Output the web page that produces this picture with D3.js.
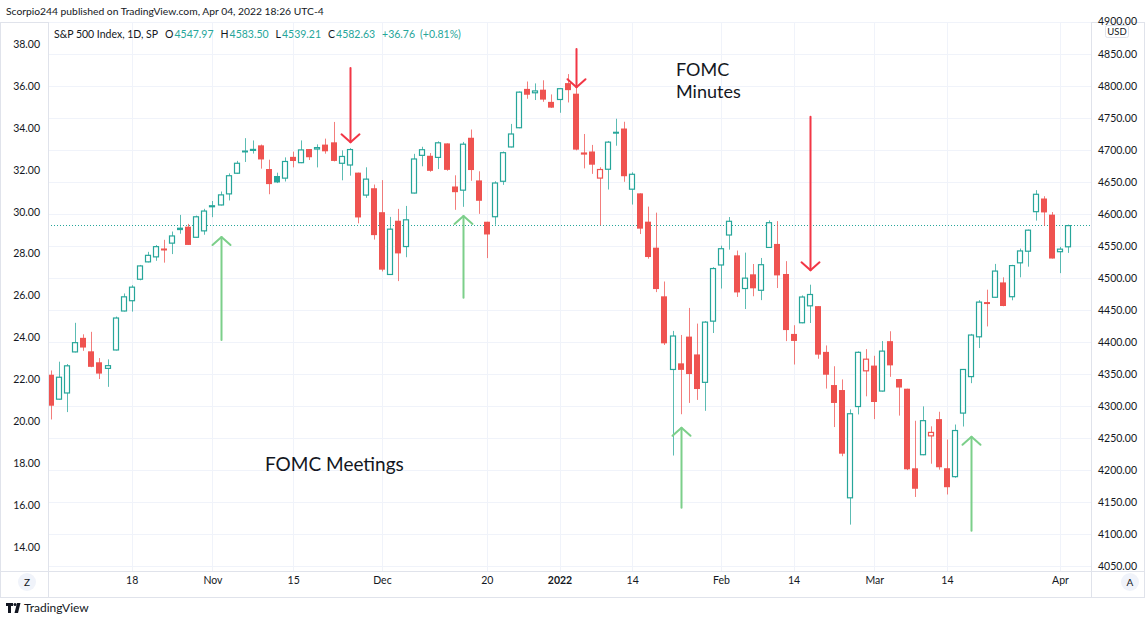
<!DOCTYPE html>
<html><head><meta charset="utf-8">
<script src="https://cdn.jsdelivr.net/npm/d3@7"></script>
<style>
body{margin:0;background:#fff;}
svg{display:block;font-family:Lato,"Liberation Sans",sans-serif;}
</style></head><body>
<svg id="c" width="1145" height="617"></svg>
<script>
// ---------- DATA ----------
const dates = [
"2021-10-04","2021-10-05","2021-10-06","2021-10-07","2021-10-08","2021-10-11","2021-10-12","2021-10-13","2021-10-14","2021-10-15",
"2021-10-18","2021-10-19","2021-10-20","2021-10-21","2021-10-22","2021-10-25","2021-10-26","2021-10-27","2021-10-28","2021-10-29",
"2021-11-01","2021-11-02","2021-11-03","2021-11-04","2021-11-05","2021-11-08","2021-11-09","2021-11-10","2021-11-11","2021-11-12",
"2021-11-15","2021-11-16","2021-11-17","2021-11-18","2021-11-19","2021-11-22","2021-11-23","2021-11-24","2021-11-26","2021-11-29",
"2021-11-30","2021-12-01","2021-12-02","2021-12-03","2021-12-06","2021-12-07","2021-12-08","2021-12-09","2021-12-10","2021-12-13",
"2021-12-14","2021-12-15","2021-12-16","2021-12-17","2021-12-20","2021-12-21","2021-12-22","2021-12-23","2021-12-27","2021-12-28",
"2021-12-29","2021-12-30","2021-12-31","2022-01-03","2022-01-04","2022-01-05","2022-01-06","2022-01-07","2022-01-10","2022-01-11",
"2022-01-12","2022-01-13","2022-01-14","2022-01-18","2022-01-19","2022-01-20","2022-01-21","2022-01-24","2022-01-25","2022-01-26",
"2022-01-27","2022-01-28","2022-01-31","2022-02-01","2022-02-02","2022-02-03","2022-02-04","2022-02-07","2022-02-08","2022-02-09",
"2022-02-10","2022-02-11","2022-02-14","2022-02-15","2022-02-16","2022-02-17","2022-02-18","2022-02-22","2022-02-23","2022-02-24",
"2022-02-25","2022-02-28","2022-03-01","2022-03-02","2022-03-03","2022-03-04","2022-03-07","2022-03-08","2022-03-09","2022-03-10",
"2022-03-11","2022-03-14","2022-03-15","2022-03-16","2022-03-17","2022-03-18","2022-03-21","2022-03-22","2022-03-23","2022-03-24",
"2022-03-25","2022-03-28","2022-03-29","2022-03-30","2022-03-31","2022-04-01","2022-04-04"];

const openP = [
4348.84,4309.87,4319.57,4383.73,4406.51,4385.44,4368.31,4358.01,4386.75,4447.69,
4463.72,4497.34,4524.42,4532.24,4546.12,4553.69,4578.69,4580.22,4562.84,4572.87,
4610.62,4613.34,4630.65,4662.93,4699.26,4701.48,4707.25,4670.26,4659.39,4655.24,
4689.30,4679.42,4701.50,4700.72,4708.44,4712.00,4678.48,4675.78,4664.63,4628.75,
4640.25,4602.82,4504.73,4589.49,4548.37,4631.97,4690.86,4691.00,4687.64,4710.30,
4642.99,4636.46,4719.13,4652.50,4587.90,4594.96,4650.36,4703.96,4733.99,4795.49,
4788.64,4794.23,4775.21,4778.14,4804.51,4787.99,4693.39,4697.66,4655.34,4669.14,
4728.59,4733.56,4637.99,4632.24,4588.03,4547.35,4471.38,4356.32,4366.64,4408.43,
4380.58,4336.19,4431.79,4519.57,4566.39,4535.41,4482.79,4505.75,4480.02,4547.00,
4553.24,4506.27,4412.61,4429.28,4455.75,4456.06,4384.57,4332.74,4324.93,4155.77,
4298.38,4354.17,4363.14,4322.56,4401.31,4342.12,4327.01,4202.66,4223.10,4252.55,
4279.50,4202.75,4188.82,4288.14,4345.11,4407.34,4462.40,4469.10,4493.10,4469.98,
4522.91,4541.09,4602.86,4624.20,4599.02,4540.32,4547.97];

const highP = [
4355.51,4369.23,4365.57,4429.97,4412.02,4415.88,4374.89,4372.87,4439.73,4475.82,
4488.75,4520.40,4540.87,4551.44,4559.67,4572.62,4598.53,4584.57,4597.55,4608.08,
4620.34,4635.15,4663.46,4683.00,4718.50,4714.92,4708.53,4684.85,4664.55,4688.47,
4697.42,4714.95,4701.50,4708.80,4717.75,4743.83,4699.39,4702.87,4664.63,4672.95,
4646.02,4652.94,4595.46,4608.03,4612.60,4694.04,4705.06,4695.26,4713.57,4710.30,
4660.47,4712.60,4731.99,4666.70,4587.90,4651.14,4697.67,4740.74,4791.49,4807.02,
4804.06,4808.93,4786.83,4796.64,4818.62,4797.70,4725.01,4707.95,4673.02,4714.13,
4748.83,4744.13,4665.13,4632.24,4611.55,4602.11,4494.52,4417.35,4411.01,4453.23,
4428.74,4432.72,4516.89,4550.49,4595.31,4542.88,4539.66,4521.86,4531.32,4590.03,
4588.92,4526.33,4426.22,4472.77,4489.55,4456.06,4394.60,4362.12,4341.51,4294.73,
4385.34,4388.84,4378.45,4401.48,4416.78,4342.12,4327.01,4276.94,4299.40,4268.28,
4291.01,4247.57,4271.05,4357.86,4412.67,4465.40,4481.75,4522.00,4501.07,4520.58,
4546.03,4575.65,4637.30,4627.77,4603.07,4548.70,4583.50];

const lowP = [
4278.94,4309.87,4290.49,4383.73,4386.22,4360.59,4342.09,4329.92,4386.75,4447.69,
4447.47,4496.41,4524.40,4526.89,4524.00,4537.36,4569.17,4551.66,4562.84,4567.59,
4595.06,4613.34,4621.19,4662.59,4681.32,4694.39,4670.87,4630.86,4648.31,4650.77,
4672.86,4679.42,4684.41,4672.78,4694.22,4682.17,4652.66,4659.89,4585.43,4625.26,
4560.00,4510.27,4504.73,4495.12,4532.46,4631.97,4674.52,4665.98,4670.24,4667.60,
4606.52,4611.22,4651.89,4600.22,4531.10,4583.16,4645.53,4703.96,4733.99,4780.04,
4778.08,4775.33,4765.75,4758.17,4774.27,4699.44,4671.26,4662.74,4582.24,4638.27,
4706.71,4650.29,4614.75,4568.70,4530.20,4477.95,4395.34,4222.62,4287.11,4304.80,
4309.50,4292.46,4414.02,4483.53,4544.32,4470.39,4451.50,4471.47,4465.40,4547.00,
4484.31,4401.41,4364.84,4429.28,4429.68,4373.81,4327.22,4267.11,4221.51,4114.65,
4286.83,4315.12,4279.54,4322.56,4345.56,4284.98,4199.85,4157.87,4223.10,4209.80,
4200.49,4161.72,4187.90,4267.92,4335.65,4390.57,4424.30,4469.10,4455.81,4465.17,
4501.07,4517.69,4589.66,4581.32,4530.41,4507.57,4539.21];

const closeP = [
4300.46,4345.72,4363.55,4399.76,4391.34,4361.19,4350.65,4363.80,4438.26,4471.37,
4486.46,4519.63,4536.19,4549.78,4544.90,4566.48,4574.79,4551.68,4596.42,4605.38,
4613.67,4630.65,4660.57,4680.06,4697.53,4701.70,4685.25,4646.71,4649.27,4682.85,
4682.80,4700.90,4688.67,4704.54,4697.96,4682.94,4690.70,4701.46,4594.62,4655.27,
4567.00,4513.04,4577.10,4538.43,4591.67,4686.75,4701.21,4667.45,4712.02,4668.97,
4634.09,4709.85,4668.67,4620.64,4568.02,4649.23,4696.56,4725.79,4791.19,4786.35,
4793.06,4778.73,4766.18,4796.56,4793.54,4700.58,4696.05,4677.03,4670.29,4713.07,
4726.35,4659.03,4662.85,4577.11,4532.76,4482.73,4397.94,4410.13,4356.45,4349.93,
4326.51,4431.85,4515.55,4546.54,4589.38,4477.44,4500.53,4483.87,4521.54,4587.18,
4504.08,4418.64,4401.67,4471.07,4475.01,4380.26,4348.87,4304.76,4225.50,4288.70,
4384.65,4373.94,4306.26,4386.54,4363.49,4328.87,4201.09,4170.70,4277.88,4259.52,
4204.31,4173.11,4262.45,4357.86,4411.67,4463.12,4461.18,4511.61,4456.24,4520.16,
4543.06,4575.52,4631.60,4602.45,4530.41,4545.86,4582.63];

const closeBefore = 4357.04; // close of 2021-10-01

const rightTicks = [4050,4100,4150,4200,4250,4300,4350,4400,4450,4500,4550,4600,4650,4700,4750,4800,4850,4900];
const leftTicks = [14,16,18,20,22,24,26,28,30,32,34,36,38];
const timeTickDates = ["2021-10-18","2021-11-01","2021-11-15","2021-12-01","2021-12-20","2022-01-03","2022-01-14","2022-02-01","2022-02-14","2022-03-01","2022-03-14","2022-04-01"];
const timeTickLabels = ["18","Nov","15","Dec","20","2022","14","Feb","14","Mar","14","Apr"];

// annotation anchors (date, price from / price to)
const minutesArrows = [["2021-11-24",4828,4712],["2022-01-05",4858,4798],["2022-02-16",4752,4512]];
const meetingArrows = [["2021-11-02",4403,4564],["2021-12-15",4469,4597],["2022-01-25",4141,4266],["2022-03-17",4105,4252]];

// ---------- LAYOUT ----------
const svg = d3.select('#c');
const W=1145, H=617;
const pL=48, pR=1091, pT=22, pB=571;
const GREEN="#26a69a", RED="#ef5350", TXT="#131722", GRID="#f0f3fa", BORDER="#e0e3eb";
const FONT='Lato,"Liberation Sans",sans-serif';

const x = d3.scalePoint().domain(dates).range([51,1068]);
const y = d3.scaleLinear().domain([4050,4900]).range([566,22]);
const yL = d3.scaleLinear().domain([14,38]).range([547,44]);

svg.append('rect').attr('width',W).attr('height',H).attr('fill','#fff');

// header
svg.append('text').attr('x',6).attr('y',15).attr('font-size',10.3).attr('fill',TXT)
  .text('Scorpio244 published on TradingView.com, Apr 04, 2022 18:26 UTC-4');

// frame
svg.append('rect').attr('x',0.5).attr('y',pT+0.5).attr('width',W-1).attr('height',597-pT)
  .attr('fill','none').attr('stroke',BORDER);

const defs = svg.append('defs');
defs.append('clipPath').attr('id','clip').append('rect').attr('x',pL).attr('y',pT).attr('width',pR-pL).attr('height',pB-pT);

const plot = svg.append('g').attr('clip-path','url(#clip)');

// grid
plot.append('g').selectAll('line').data(timeTickDates).join('line')
  .attr('x1',d=>Math.round(x(d))+0.5).attr('x2',d=>Math.round(x(d))+0.5)
  .attr('y1',pT).attr('y2',pB).attr('stroke',GRID).attr('stroke-width',1);
plot.append('g').selectAll('line').data(rightTicks).join('line')
  .attr('x1',pL).attr('x2',pR)
  .attr('y1',d=>Math.round(y(d))+0.5).attr('y2',d=>Math.round(y(d))+0.5)
  .attr('stroke',GRID).attr('stroke-width',1);

// last price dotted line
const lastY = Math.round(y(closeP[closeP.length-1]))+0.5;
plot.append('line').attr('x1',pL).attr('x2',pR).attr('y1',lastY).attr('y2',lastY)
  .attr('stroke',GREEN).attr('stroke-width',1).attr('stroke-dasharray','1,2');

// candles (hollow-candle style)
const candles = dates.map((d,i)=>{
  const prev = i===0 ? closeBefore : closeP[i-1];
  return {d, o:openP[i], h:highP[i], l:lowP[i], c:closeP[i], up: closeP[i] >= prev, hollow: closeP[i] > openP[i]};
});
const cs = plot.append('g').selectAll('g').data(candles).join('g');
cs.append('line')
  .attr('x1',d=>Math.round(x(d.d))+0.5).attr('x2',d=>Math.round(x(d.d))+0.5)
  .attr('y1',d=>y(d.h)).attr('y2',d=>y(d.l))
  .attr('stroke',d=>d.up?GREEN:RED).attr('stroke-opacity',0.75).attr('stroke-width',1);
cs.each(function(d){
  const g = d3.select(this);
  const cx = Math.round(x(d.d));
  const top = y(Math.max(d.o,d.c)), bot = y(Math.min(d.o,d.c));
  const col = d.up?GREEN:RED;
  if(d.hollow){
    g.append('rect').attr('x',cx-2.5).attr('y',top+0.5).attr('width',5).attr('height',Math.max(1,bot-top-1))
      .attr('fill','#fff').attr('stroke',col).attr('stroke-width',1.2);
  } else {
    g.append('rect').attr('x',cx-3).attr('y',top).attr('width',6).attr('height',Math.max(2,bot-top))
      .attr('fill',col);
  }
});

// arrows
function arrow(dt,p0,p1,col){
  const ax = Math.round(x(dt))+0.5;
  const ya = y(p0), yb = y(p1);
  const dir = yb > ya ? 1 : -1;
  const g = plot.append('g').attr('fill','none').attr('stroke',col).attr('stroke-width',2).attr('stroke-linecap','round');
  g.append('line').attr('x1',ax).attr('x2',ax).attr('y1',ya).attr('y2',yb);
  g.append('path').attr('d',`M${ax-9},${yb-8*dir}L${ax},${yb}L${ax+9},${yb-8*dir}`).attr('stroke-linejoin','round');
}
minutesArrows.forEach(a=>arrow(a[0],a[1],a[2],"#f23645"));
meetingArrows.forEach(a=>arrow(a[0],a[1],a[2],"#7ccf8a"));

// text annotations
svg.append('text').attr('x',265).attr('y',471).attr('font-size',19).attr('fill',TXT).text('FOMC Meetings');
svg.append('text').attr('x',676).attr('y',76).attr('font-size',18).attr('fill',TXT).text('FOMC');
svg.append('text').attr('x',676).attr('y',98).attr('font-size',18).attr('fill',TXT).text('Minutes');

// axes borders
svg.append('line').attr('x1',pL+0.5).attr('x2',pL+0.5).attr('y1',pT).attr('y2',597).attr('stroke',BORDER);
svg.append('line').attr('x1',pR+0.5).attr('x2',pR+0.5).attr('y1',pT).attr('y2',597).attr('stroke',BORDER);
svg.append('line').attr('x1',0).attr('x2',W).attr('y1',pB+0.5).attr('y2',pB+0.5).attr('stroke',BORDER);

// right axis
const ra = svg.append('g').attr('transform',`translate(${pR},0)`)
  .call(d3.axisRight(y).tickValues(rightTicks.filter(v=>v<4900)).tickFormat(d3.format('.2f')).tickSize(0).tickPadding(7));
ra.select('.domain').remove();
ra.selectAll('text').attr('font-size',10.5).attr('fill',TXT).attr('font-family',FONT);

// top clipped label + USD badge
svg.append('defs').append('clipPath').attr('id','topclip').append('rect').attr('x',pR).attr('y',0).attr('width',60).attr('height',25);
svg.append('text').attr('clip-path','url(#topclip)').attr('x',pR+7).attr('y',y(4900)).attr('dy','0.32em')
  .attr('font-size',10.5).attr('fill',TXT).text(d3.format('.2f')(4900));
svg.append('rect').attr('x',1105.5).attr('y',25.5).attr('width',23).attr('height',12).attr('rx',2)
  .attr('fill','#fff').attr('stroke',BORDER);
svg.append('text').attr('x',1117).attr('y',35).attr('text-anchor','middle').attr('font-size',9.5).attr('fill',TXT).text('USD');

// left axis
const la = svg.append('g').attr('transform',`translate(${pL},0)`)
  .call(d3.axisLeft(yL).tickValues(leftTicks).tickFormat(d3.format('.2f')).tickSize(0).tickPadding(8));
la.select('.domain').remove();
la.selectAll('text').attr('font-size',10.5).attr('fill',TXT).attr('font-family',FONT);

// bottom axis
const ba = svg.append('g').attr('transform',`translate(0,${pB})`)
  .call(d3.axisBottom(x).tickValues(timeTickDates).tickFormat((d,i)=>timeTickLabels[i]).tickSize(0).tickPadding(6));
ba.select('.domain').remove();
ba.selectAll('text').attr('font-size',10.5).attr('fill',TXT).attr('font-family',FONT)
  .attr('font-weight',(d,i)=>timeTickLabels[i]==='2022'?'bold':'normal');

// Z / A buttons
[[27,'Z'],[1130,'A']].forEach(([bx,t])=>{
  svg.append('circle').attr('cx',bx).attr('cy',582).attr('r',9).attr('fill','#f0f3fa');
  svg.append('text').attr('x',bx).attr('y',586).attr('text-anchor','middle').attr('font-size',10).attr('fill',TXT).text(t);
});

// legend (flowing text)
const lg = svg.append('text').attr('x',54).attr('y',38).attr('font-size',10.5).attr('fill',TXT);
const legendParts = [[0,'S&P 500 Index, 1D, SP',TXT],[7,'O',TXT],[1,'4547.97',GREEN],[7,'H',TXT],[1,'4583.50',GREEN],
  [7,'L',TXT],[1,'4539.21',GREEN],[7,'C',TXT],[1,'4582.63',GREEN],[7,'+36.76',GREEN],[5,'(+0.81%)',GREEN]];
legendParts.forEach(([dx,t,c])=>lg.append('tspan').attr('dx',dx).attr('fill',c).text(t));

// footer logo
const logo = svg.append('g').attr('transform','translate(6,603)');
logo.append('path').attr('d','M0,0H7V3H5V10H2V3H0Z').attr('fill',TXT);
logo.append('circle').attr('cx',9).attr('cy',1.5).attr('r',1.5).attr('fill',TXT);
logo.append('path').attr('d','M11,0H14.5L12,10H8.5Z').attr('fill',TXT);
svg.append('text').attr('x',24).attr('y',612).attr('font-size',12).attr('fill',TXT).text('TradingView');
</script>
</body></html>
